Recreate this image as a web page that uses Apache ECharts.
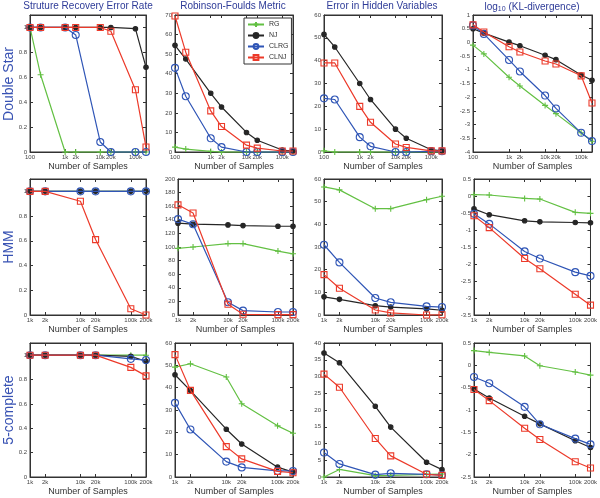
<!DOCTYPE html>
<html><head><meta charset="utf-8">
<script src="https://cdn.jsdelivr.net/npm/echarts@6/dist/echarts.min.js"></script>
<style>html,body{margin:0;padding:0;background:#fff}#c{width:600px;height:498px}</style>
</head><body><div id="c"></div>
<script>
// ---- data ----
const samples1 = [100, 200, 1000, 2000, 10000, 20000, 100000, 200000];
const samples2 = [1000, 2000, 10000, 20000, 100000, 200000];
const ticks1 = [100, 1000, 2000, 10000, 20000, 100000, 200000];
const ticks2 = [1000, 2000, 10000, 20000, 100000, 200000];
const tickText = {100:'100',1000:'1k',2000:'2k',10000:'10k',20000:'20k',100000:'100k',200000:'200k'};
const seriesNames = ['RG', 'NJ', 'CLRG', 'CLNJ'];
const colTitles = ['Struture Recovery Error Rate', 'Robinson-Foulds Metric', 'Error in Hidden Variables', 'log{sub|10} (KL-divergence)'];
const rowTitles = ['Double Star', 'HMM', '5-complete'];

// Double Star
const ds_err_RG   = [1, 0.62, 0, 0, 0, 0, 0, 0];
const ds_err_NJ   = [1, 1, 1, 1, 1, 1, 0.99, 0.68];
const ds_err_CLRG = [1, 1, 1, 0.94, 0.08, 0, 0, 0];
const ds_err_CLNJ = [1, 1, 1, 1, 1, 0.97, 0.5, 0.04];
const ds_rf_RG    = [2.5, 1.5, 0.3, 0, 0, 0, 0, 0];
const ds_rf_NJ    = [54.5, 47.5, 30, 23, 10, 6, 1, 0.5];
const ds_rf_CLRG  = [43, 28.5, 7, 2.5, 0, 0, 0, 0];
const ds_rf_CLNJ  = [69.5, 51, 21, 13, 3.5, 2, 0.5, 0.5];
const ds_hv_RG    = [0.5, 0, 0, 0, 0, 0, 0, 0];
const ds_hv_NJ    = [51.5, 46, 30, 23, 10, 6, 1, 0.5];
const ds_hv_CLRG  = [23.5, 23, 6.5, 2.5, 0, 0, 0.3, 0.3];
const ds_hv_CLNJ  = [39, 39, 20, 13, 3.5, 2, 0.5, 0.5];
const ds_kl_RG    = [-0.1, -0.42, -1.27, -1.59, -2.3, -2.6, -3.3, -3.61];
const ds_kl_NJ    = [0.5, 0.34, 0.01, -0.12, -0.47, -0.63, -1.19, -1.38];
const ds_kl_CLRG  = [0.62, 0.31, -0.64, -1.06, -1.94, -2.41, -3.3, -3.6];
const ds_kl_CLNJ  = [0.64, 0.38, -0.16, -0.35, -0.68, -0.79, -1.22, -2.21];
// HMM
const hmm_err_RG   = [1, 1, 1, 1, 1, 1];
const hmm_err_NJ   = [1, 1, 1, 1, 1, 1];
const hmm_err_CLRG = [1, 1, 1, 1, 1, 1];
const hmm_err_CLNJ = [1, 1, 0.92, 0.61, 0.05, 0];
const hmm_rf_RG    = [98, 100, 105, 105, 94, 90];
const hmm_rf_NJ    = [135, 133.5, 132.5, 131.5, 130.5, 130.5];
const hmm_rf_CLRG  = [141, 133.5, 18.7, 6.4, 4.4, 4.4];
const hmm_rf_CLNJ  = [162, 150, 15.7, 1, 0.5, 0.5];
const hmm_hv_RG    = [56.5, 55.2, 46.9, 46.9, 50.9, 52.4];
const hmm_hv_NJ    = [8, 6.9, 4.1, 3.5, 2.7, 2.1];
const hmm_hv_CLRG  = [31, 23.2, 7.5, 5.6, 3.8, 3.5];
const hmm_hv_CLNJ  = [17.8, 11.8, 2.2, 0.9, 0, 0.1];
const hmm_kl_RG    = [0.04, 0.03, -0.07, -0.09, -0.48, -0.51];
const hmm_kl_NJ    = [-0.38, -0.55, -0.73, -0.76, -0.78, -0.79];
const hmm_kl_CLRG  = [-0.52, -0.82, -1.63, -1.84, -2.24, -2.35];
const hmm_kl_CLNJ  = [-0.58, -0.93, -1.84, -2.14, -2.89, -3.21];
// 5-complete
const fc_err_RG   = [1, 1, 1, 1, 1, 1];
const fc_err_NJ   = [1, 1, 1, 1, 0.99, 0.95];
const fc_err_CLRG = [1, 1, 1, 1, 0.97, 0.96];
const fc_err_CLNJ = [1, 1, 1, 1, 0.9, 0.83];
const fc_rf_RG    = [49.2, 50.7, 44.8, 32.8, 22.9, 19.6];
const fc_rf_NJ    = [45.8, 38.7, 21.4, 14.8, 4.4, 2.2];
const fc_rf_CLRG  = [33.2, 21.3, 6.9, 4.3, 2.7, 2.7];
const fc_rf_CLNJ  = [54.8, 38.8, 13.6, 8.1, 2.5, 1.9];
const fc_hv_RG    = [0, 2.25, 0.4, 0.5, 0.8, 0.9];
const fc_hv_NJ    = [37, 34.1, 21.1, 14.9, 4.4, 2.2];
const fc_hv_CLRG  = [7.3, 3.9, 0.7, 1.1, 0.8, 0.6];
const fc_hv_CLNJ  = [30.7, 26.8, 11.5, 6.3, 0.8, 0.5];
const fc_kl_RG    = [0.33, 0.29, 0.21, -0.01, -0.15, -0.22];
const fc_kl_NJ    = [-0.53, -0.73, -1.14, -1.31, -1.69, -1.84];
const fc_kl_CLRG  = [-0.26, -0.4, -0.93, -1.32, -1.64, -1.77];
const fc_kl_CLNJ  = [-0.54, -0.79, -1.41, -1.66, -2.16, -2.3];

// ---- layout / style ----
const panels = [
  // row 0
  {x: samples1, t: ticks1, d: [ds_err_RG, ds_err_NJ, ds_err_CLRG, ds_err_CLNJ], y: [0, 1.1, 0.2], g: [30, 15, 116, 137]},
  {x: samples1, t: ticks1, d: [ds_rf_RG, ds_rf_NJ, ds_rf_CLRG, ds_rf_CLNJ], y: [0, 70, 10], g: [175, 15, 118, 137]},
  {x: samples1, t: ticks1, d: [ds_hv_RG, ds_hv_NJ, ds_hv_CLRG, ds_hv_CLNJ], y: [0, 60, 10], g: [324, 15, 118, 137]},
  {x: samples1, t: ticks1, d: [ds_kl_RG, ds_kl_NJ, ds_kl_CLRG, ds_kl_CLNJ], y: [-4, 1, 0.5], g: [473, 15, 119, 137]},
  // row 1
  {x: samples2, t: ticks2, d: [hmm_err_RG, hmm_err_NJ, hmm_err_CLRG, hmm_err_CLNJ], y: [0, 1.1, 0.2], g: [30, 179, 116, 136]},
  {x: samples2, t: ticks2, d: [hmm_rf_RG, hmm_rf_NJ, hmm_rf_CLRG, hmm_rf_CLNJ], y: [0, 200, 20], g: [178, 179, 115, 136]},
  {x: samples2, t: ticks2, d: [hmm_hv_RG, hmm_hv_NJ, hmm_hv_CLRG, hmm_hv_CLNJ], y: [0, 60, 10], g: [324, 179, 118, 136]},
  {x: samples2, t: ticks2, d: [hmm_kl_RG, hmm_kl_NJ, hmm_kl_CLRG, hmm_kl_CLNJ], y: [-3.5, 0.5, 0.5], g: [474, 179, 118, 136]},
  // row 2
  {x: samples2, t: ticks2, d: [fc_err_RG, fc_err_NJ, fc_err_CLRG, fc_err_CLNJ], y: [0, 1.1, 0.2], g: [30, 343, 116, 134]},
  {x: samples2, t: ticks2, d: [fc_rf_RG, fc_rf_NJ, fc_rf_CLRG, fc_rf_CLNJ], y: [0, 60, 10], g: [175, 343, 118, 134]},
  {x: samples2, t: ticks2, d: [fc_hv_RG, fc_hv_NJ, fc_hv_CLRG, fc_hv_CLNJ], y: [0, 40, 5], g: [324, 343, 118, 134]},
  {x: samples2, t: ticks2, d: [fc_kl_RG, fc_kl_NJ, fc_kl_CLRG, fc_kl_CLNJ], y: [-2.5, 0.5, 0.5], g: [474, 343, 118, 134]}
];

const colors = ['#63c043', '#262626', '#2f55b6', '#ec3a2a'];
const symbols = ['path://M0,5L10,5M5,0L5,10', 'circle', 'circle', 'rect'];
const symSizes = [6, 4.5, 7, 6];
const symFill = ['#63c043', '#262626', 'rgba(0,0,0,0)', 'rgba(0,0,0,0)'];
const FONT = 'Liberation Sans, Arial, sans-serif';
const titleColor = '#2e3b98';
const rowColor = '#3852b3';

const grid = [], xAxis = [], yAxis = [], series = [], title = [];

function fmtY(v) {
  return String(Math.round(v * 100) / 100);
}

panels.forEach((p, i) => {
  const [l, t, w, h] = p.g;
  grid.push({left: l, top: t, width: w, height: h, show: true, borderColor: '#333', borderWidth: 1, backgroundColor: '#fff'});
  const xmin = p.x[0], xmax = p.x[p.x.length - 1];
  const base = {
    gridIndex: i, type: 'log', logBase: 10, min: xmin, max: xmax,
    axisLine: {show: true, onZero: false, lineStyle: {color: '#333', width: 1}},
    splitLine: {show: false}, minorTick: {show: false}
  };
  xAxis.push(Object.assign({}, base, {
    position: 'bottom',
    name: 'Number of Samples', nameLocation: 'middle', nameGap: 10,
    nameTextStyle: {fontSize: 9, color: '#333', fontFamily: FONT},
    axisTick: {show: true, inside: true, length: 3, customValues: p.t, lineStyle: {color: '#333'}},
    axisLabel: {show: true, customValues: p.t, fontSize: 6, color: '#444', margin: 2, fontFamily: FONT,
      formatter: v => tickText[Math.round(v)] || ''}
  }));
  xAxis.push(Object.assign({}, base, {
    position: 'top',
    axisTick: {show: true, inside: true, length: 3, customValues: p.t, lineStyle: {color: '#333'}},
    axisLabel: {show: false}
  }));
  const [ymin, ymax, yint] = p.y;
  const ybase = {
    gridIndex: i, type: 'value', min: ymin, max: ymax, interval: yint,
    axisLine: {show: true, onZero: false, lineStyle: {color: '#333', width: 1}},
    splitLine: {show: false}
  };
  yAxis.push(Object.assign({}, ybase, {
    position: 'left',
    axisTick: {show: true, inside: true, length: 3, lineStyle: {color: '#333'}},
    axisLabel: {show: true, fontSize: 6, color: '#444', margin: 3, fontFamily: FONT, showMaxLabel: (ymax / yint) % 1 === 0,
      formatter: v => fmtY(v)}
  }));
  yAxis.push(Object.assign({}, ybase, {
    position: 'right',
    axisTick: {show: true, inside: true, length: 3, lineStyle: {color: '#333'}},
    axisLabel: {show: false}
  }));
  p.d.forEach((vals, s) => {
    series.push({
      name: seriesNames[s], type: 'line',
      xAxisIndex: 2 * i, yAxisIndex: 2 * i,
      data: p.x.map((xv, k) => [xv, vals[k]]),
      symbol: symbols[s], symbolSize: symSizes[s],
      showAllSymbol: true, animation: false, clip: false,
      lineStyle: {color: colors[s], width: 1.2},
      itemStyle: {color: symFill[s], borderColor: colors[s], borderWidth: 1.1},
      z: 2 + s
    });
  });
});

// column titles
const colCenters = [88, 233, 382, 532];
colTitles.forEach((txt, c) => {
  title.push({
    text: txt, left: colCenters[c], top: 1, textAlign: 'center', padding: 0,
    textStyle: {fontSize: 10, fontWeight: 'normal', color: titleColor, fontFamily: FONT,
      rich: {sub: {fontSize: 7, color: titleColor, verticalAlign: 'bottom', padding: [5, 0, 0, 0], fontFamily: FONT}}}
  });
});

// row titles
const rowCenters = [84, 247, 410];
const graphic = rowTitles.map((txt, r) => ({
  type: 'text', x: 9, y: rowCenters[r], rotation: Math.PI / 2,
  style: {text: txt, fill: rowColor, fontSize: 14, fontFamily: FONT, align: 'center', verticalAlign: 'middle'}
}));

const chart = echarts.init(document.getElementById('c'), null, {renderer: 'canvas'});
chart.setOption({
  animation: false,
  title: title,
  grid: grid,
  xAxis: xAxis,
  yAxis: yAxis,
  series: series,
  graphic: graphic,
  legend: {
    data: seriesNames, orient: 'vertical', left: 244, top: 18,
    itemWidth: 16, itemHeight: 6, itemGap: 4,
    padding: [3, 3, 3, 3], borderColor: '#333', borderWidth: 1, backgroundColor: '#fff',
    textStyle: {fontSize: 7, color: '#333', fontFamily: FONT}, z: 10
  }
});
</script></body></html>
